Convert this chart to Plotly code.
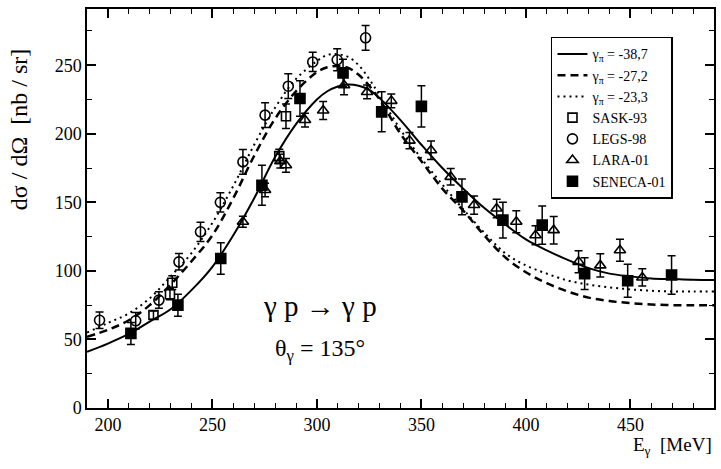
import plotly.graph_objects as go

# ---- model curves ----
curve_E = [190, 200, 210, 220, 230, 240, 250, 260, 270, 280, 290, 300, 305, 310, 315, 320, 325, 330,
           340, 350, 360, 370, 380, 390, 400, 410, 420, 430, 440, 450, 460, 470, 480, 490]
solid_y = [41, 47, 54, 63, 72, 86, 103, 126, 153, 183, 207, 225, 231, 234.5, 236, 235, 232, 226,
           210, 192, 175, 160, 146, 134, 123, 115, 108, 102, 98, 96, 94.5, 94, 93.5, 93.3]
dashed_y = [52, 57, 64, 75, 90, 107, 126, 153, 184, 211, 231, 245, 248.5, 249.5, 248, 243, 235, 225,
            200, 180, 160, 144, 126, 110, 99, 91, 85, 80.5, 78, 76.5, 75.5, 75, 75, 75]
dotted_y = [55, 62, 69, 80, 96, 113, 135, 162, 192, 219, 240, 253, 257.5, 258, 256, 250, 240, 228,
            203, 182, 163, 145, 128, 113, 104, 98, 93, 90, 88, 86.5, 85.5, 85, 85, 85]
curve_names = ["γ<sub>π</sub> = -38,7", "γ<sub>π</sub> = -27,2", "γ<sub>π</sub> = -23,3"]

# ---- data sets ----
sask_E = [221.8, 229.7, 230.8, 282.0, 285.2]
sask_y = [67.8, 83, 91.4, 183.7, 212.8]
sask_err = [3, 4, 5, 5, 9]

legs_E = [196, 213.3, 224.4, 234, 244.3, 253.8, 264.6, 275.2, 286.3, 298, 309.7, 323.3]
legs_y = [64, 63.6, 78.7, 106.6, 128.5, 150, 179.5, 213.6, 234.7, 252.4, 254, 270]
legs_err = [6, 6, 6, 6, 7, 7, 9, 9, 9, 7, 8, 9]

lara_E = [264.6, 275.2, 282.5, 285.2, 294.3, 303, 313, 324, 335.6, 344.3, 354.6, 364, 375.2,
          386, 395.4, 404.6, 413.3, 425.2, 435.6, 445, 455.7]
lara_y = [135.8, 159, 180, 177, 210, 217, 235.4, 230.5, 224, 195, 188, 168.6, 148,
          145.5, 135.8, 126, 129.7, 106.6, 104, 115, 95.2]
lara_err = [4, 5, 5, 5, 5, 6.5, 7, 5, 5, 6, 6.7, 6, 6.7, 6.7, 8, 7, 10, 8, 8.5, 8, 6.3]

sen_E = [211, 233.5, 254, 273.7, 291.9, 312.5, 331, 350, 369.4, 389, 407.8, 428.1, 448.7, 469.7]
sen_y = [54.4, 75, 109, 162.5, 225.7, 244.4, 216, 220, 154, 137, 133.4, 98, 92.8, 97]
sen_err = [8, 8, 11.5, 14.6, 13, 10, 14.6, 15, 13, 13, 14, 11.5, 12, 14]

FONT = "Liberation Serif, DejaVu Serif, serif"
fig = go.Figure()

for ys, nm, dash, w in [(solid_y, curve_names[0], "solid", 2),
                        (dashed_y, curve_names[1], "8px,5px", 2.5),
                        (dotted_y, curve_names[2], "2px,4px", 2)]:
    fig.add_trace(go.Scatter(x=curve_E, y=ys, mode="lines", name=nm,
                             line=dict(color="black", width=w, dash=dash, shape="spline", smoothing=1.0)))

def data_trace(x, y, e, name, symbol, size):
    return go.Scatter(x=x, y=y, mode="markers", name=name,
                      marker=dict(symbol=symbol, size=size, color="black",
                                  line=dict(color="black", width=1.6)),
                      error_y=dict(type="data", array=e, visible=True, color="black",
                                   thickness=1.5, width=4))

fig.add_trace(data_trace(sask_E, sask_y, sask_err, "SASK-93", "square-open", 9))
fig.add_trace(data_trace(legs_E, legs_y, legs_err, "LEGS-98", "circle-open", 10))
fig.add_trace(data_trace(lara_E, lara_y, lara_err, "LARA-01", "triangle-up-open", 10))
fig.add_trace(data_trace(sen_E, sen_y, sen_err, "SENECA-01", "square", 10))

axis_common = dict(showline=True, linecolor="black", linewidth=1.5, mirror="ticks",
                   ticks="inside", ticklen=9, tickwidth=1.5, tickcolor="black",
                   showgrid=False, zeroline=False,
                   tickfont=dict(family=FONT, size=18, color="black"))

fig.update_xaxes(range=[190, 490], tickvals=[200, 250, 300, 350, 400, 450],
                 minor=dict(ticks="inside", ticklen=5, tickwidth=1.2, tickcolor="black", dtick=10,
                            tick0=190, showgrid=False),
                 **axis_common)
fig.update_yaxes(range=[0, 291], tickvals=[0, 50, 100, 150, 200, 250],
                 minor=dict(ticks="inside", ticklen=5, tickwidth=1.2, tickcolor="black", dtick=25,
                            tick0=0, showgrid=False),
                 **axis_common)

fig.update_layout(
    width=721, height=469,
    margin=dict(l=87, r=5, t=9, b=61),
    plot_bgcolor="white", paper_bgcolor="white",
    font=dict(family=FONT, color="black"),
    legend=dict(x=0.74, y=0.93, xanchor="left", yanchor="top",
                bordercolor="black", borderwidth=1.5, bgcolor="white",
                font=dict(family=FONT, size=14, color="black"),
                tracegroupgap=0, itemwidth=30),
    annotations=[
        dict(text="dσ / dΩ  [nb / sr]", xref="paper", yref="paper", x=-0.108, y=0.697,
             textangle=-90, showarrow=False, font=dict(family=FONT, size=24, color="black"),
             xanchor="center", yanchor="middle"),
        dict(text="E<sub>γ</sub>  [MeV]", xref="paper", yref="paper", x=1.0, y=-0.095,
             showarrow=False, font=dict(family=FONT, size=19, color="black"),
             xanchor="right", yanchor="middle"),
        dict(text="γ p → γ p", xref="paper", yref="paper", x=0.372, y=0.255,
             showarrow=False, font=dict(family=FONT, size=29, color="black"),
             xanchor="center", yanchor="middle"),
        dict(text="θ<sub>γ</sub> = 135°", xref="paper", yref="paper", x=0.372, y=0.145,
             showarrow=False, font=dict(family=FONT, size=24, color="black"),
             xanchor="center", yanchor="middle"),
    ],
)

fig.write_html("out.html")
